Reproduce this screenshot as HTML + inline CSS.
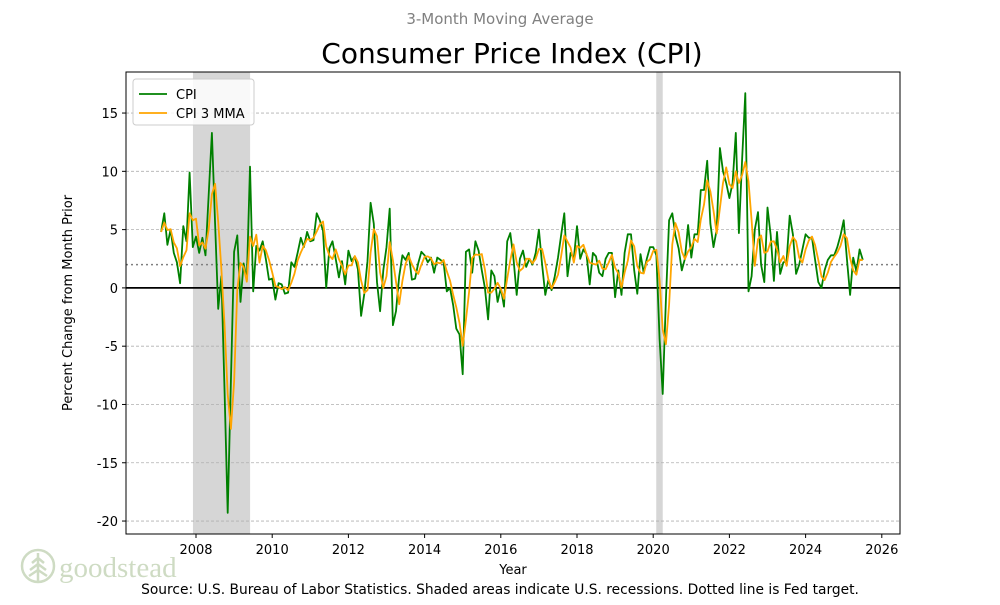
<!DOCTYPE html>
<html><head><meta charset="utf-8"><style>
body{margin:0;background:#fff;}
svg text{font-family:"DejaVu Sans","Liberation Sans",sans-serif;}
</style></head><body>
<svg id="chart" width="1000" height="600" viewBox="0 0 1000 600" xmlns="http://www.w3.org/2000/svg">
<rect width="1000" height="600" fill="#fff"/>
<text x="500" y="24" text-anchor="middle" font-size="15" fill="#808080">3-Month Moving Average</text>
<text x="512" y="63" text-anchor="middle" font-size="28" fill="#000">Consumer Price Index (CPI)</text>
<g id="plot"></g>
<text x="513" y="574" text-anchor="middle" font-size="13">Year</text>
<text transform="translate(72,303) rotate(-90)" text-anchor="middle" font-size="13">Percent Change from Month Prior</text>
<text x="500" y="594" text-anchor="middle" font-size="13.8">Source: U.S. Bureau of Labor Statistics. Shaded areas indicate U.S. recessions. Dotted line is Fed target.</text>
<g opacity="0.8">
<circle cx="38" cy="566" r="16" fill="none" stroke="#c2d3b5" stroke-width="2.5"/>
<path d="M38 553 L38 581 M38 558 l-6 5 M38 558 l6 5 M38 564 l-8 6 M38 564 l8 6 M38 570 l-9 6 M38 570 l9 6" stroke="#c2d3b5" stroke-width="2.5" fill="none"/>
<text x="59" y="577" font-size="29" fill="#c2d3b5" style="font-family:'Liberation Serif',serif">goodstead</text>
</g>
</svg>
<script>
const cpiValues=[4.8,6.4,3.7,5.0,3.0,2.2,0.4,5.3,4.0,9.9,3.5,4.4,
3.0,4.3,2.8,8.0,13.3,5.5,-1.8,1.0,-9.0,-19.3,-8.0,3.1,
4.5,-1.2,2.1,0.7,10.4,-0.3,3.6,3.2,4.0,2.5,0.7,0.8,
-1.0,0.4,0.3,-0.5,-0.4,2.2,1.8,3.0,4.3,3.5,4.8,4.0,
4.1,6.4,5.8,4.9,0.0,3.4,4.0,2.5,0.9,2.3,0.3,3.2,
2.3,2.7,1.6,-2.4,-0.5,2.3,7.3,5.5,0.5,-2.0,1.5,3.5,
6.8,-3.2,-2.0,1.0,2.8,2.4,3.0,0.7,0.8,2.1,3.1,2.8,
2.2,2.6,1.3,2.6,2.4,2.2,-0.3,0.0,-1.5,-3.5,-4.0,-7.4,
3.1,3.3,1.3,4.0,3.2,1.5,0.0,-2.7,1.5,1.0,-1.2,0.0,
-1.6,4.0,4.7,2.5,-0.6,2.5,3.2,1.8,2.5,2.0,3.0,5.0,
2.0,-0.6,0.7,-0.2,1.0,2.6,4.5,6.4,1.0,3.0,2.5,5.3,
2.5,3.3,2.9,0.3,3.0,2.7,1.3,1.0,2.5,3.0,3.0,-0.8,
1.5,-0.6,3.0,4.6,4.6,1.5,-0.5,2.9,1.3,2.5,3.5,3.5,
2.8,-4.4,-9.1,-1.0,5.8,6.4,4.5,3.4,1.5,2.5,5.4,2.6,
4.6,4.6,8.4,8.4,10.9,5.5,3.5,5.0,12.0,10.0,9.0,7.7,
9.0,13.3,4.7,11.0,16.7,-0.3,1.0,5.0,6.5,2.0,0.5,6.9,
4.5,0.6,4.8,1.2,2.2,2.3,6.2,4.6,1.2,2.0,3.3,4.6,
4.3,4.3,2.4,0.5,0.0,1.5,2.4,2.8,2.8,3.5,4.5,5.8,
2.5,-0.6,2.6,1.4,3.3,2.4];
const startYear=2007, startMonth=2;
const yTicks=[15,10,5,0,-5,-10,-15,-20];
const xTicks=[2008,2010,2012,2014,2016,2018,2020,2022,2024,2026];
const recessions=[[2007.92,2009.42],[2020.08,2020.25]];
const fedTarget=[2];

const L=126,R=900,T=72,B=534;
function xs(t){return 196+(t-2008)*38.1;}
function ys(v){return 287.9-v*11.657;}
function tOf(i){return startYear+(startMonth-1+i)/12;}
const NS="http://www.w3.org/2000/svg";
const g=document.getElementById('plot');
function mk(tag,attrs){const e=document.createElementNS(NS,tag);for(const k in attrs)e.setAttribute(k,attrs[k]);g.appendChild(e);return e;}

recessions.forEach(r=>{
 const e=mk('rect',{x:xs(r[0]),y:T,width:xs(r[1])-xs(r[0]),height:B-T,fill:'#d6d6d6'});
 
 
});
yTicks.forEach(v=>{
 const y=ys(v);
 const gl=mk('line',{x1:L,x2:R,y1:y,y2:y,stroke:'#b0b0b0','stroke-width':0.8,'stroke-dasharray':'3,2'});
 
 
 mk('line',{x1:L-4,x2:L,y1:y,y2:y,stroke:'#000','stroke-width':1});
 const tx=mk('text',{x:L-8,y:y+5,'text-anchor':'end','font-size':13});
 tx.textContent=v;
 
 
});
xTicks.forEach(t=>{
 const x=xs(t);
 mk('line',{x1:x,x2:x,y1:B,y2:B+4,stroke:'#000','stroke-width':1});
 const tx=mk('text',{x:x,y:B+20,'text-anchor':'middle','font-size':13});
 tx.textContent=t;
 
 
});
fedTarget.forEach(v=>{
 const e=mk('line',{x1:L,x2:R,y1:ys(v),y2:ys(v),stroke:'#808080','stroke-width':1.5,'stroke-dasharray':'2,3'});
 
 
});
const zl=mk('line',{x1:L,x2:R,y1:ys(0),y2:ys(0),stroke:'#000','stroke-width':1.8});



const cpiPts=cpiValues.map((v,i)=>xs(tOf(i)).toFixed(1)+','+ys(v).toFixed(1)).join(' ');
const cl=mk('polyline',{points:cpiPts,fill:'none',stroke:'#008000','stroke-width':1.8,'stroke-linejoin':'round'});


const mma=cpiValues.map((v,i)=>{const s=cpiValues.slice(Math.max(0,i-2),i+1);return s.reduce((a,b)=>a+b,0)/s.length;});
const mmaPts=mma.map((v,i)=>xs(tOf(i)).toFixed(1)+','+ys(v).toFixed(1)).join(' ');
const ml=mk('polyline',{points:mmaPts,fill:'none',stroke:'#ffa500','stroke-width':1.8,'stroke-linejoin':'round'});



const fr=mk('rect',{x:L,y:T,width:R-L,height:B-T,fill:'none',stroke:'#000','stroke-width':1});



const lg=mk('rect',{x:133,y:79,width:121,height:46,rx:3,fill:'#fff','fill-opacity':0.85,stroke:'#ccc'});


[['CPI','#008000',94],['CPI 3 MMA','#ffa500',113]].forEach(e=>{
 const ln=mk('line',{x1:139,x2:167,y1:e[2],y2:e[2],stroke:e[1],'stroke-width':1.8});
 
 
 const tx=mk('text',{x:176,y:e[2]+5,'font-size':13});
 tx.textContent=e[0];
 
 
});
</script>
</body></html>
